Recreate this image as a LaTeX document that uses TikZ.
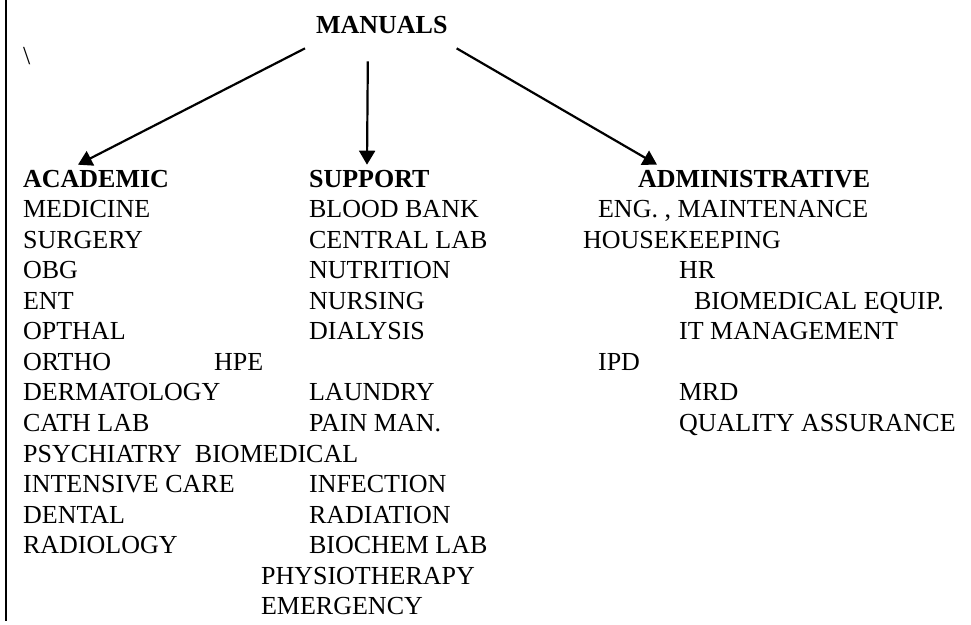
\documentclass[tikz,border=0pt]{standalone}
\usepackage{fontspec}
\setmainfont{Liberation Serif}
\usetikzlibrary{arrows.meta}

\begin{document}
\begin{tikzpicture}[x=1pt,y=-1pt,line width=2.2pt,>={Triangle[width=16pt,length=14pt]},
 font=\fontsize{26}{30}\selectfont,
 item/.style={anchor=base west,inner sep=0pt},
 heading/.style={item,font=\fontsize{26}{30}\selectfont\bfseries}]
 \useasboundingbox (0,0) rectangle (971,624);
 \draw[line width=2pt] (6,0)--(6,621);
 \node[heading] (manuals) at (315,33) {MANUALS};
 \node[item] (slash) at (22,64) {\textbackslash};
 % column heads
 \node[heading] (academic) at (22,187) {ACADEMIC};
 \node[heading] (support) at (308,187) {SUPPORT};
 \node[heading] (admin) at (637,187) {ADMINISTRATIVE};
 \draw[->] ([shift={(-10,14)}]manuals.south west)--([shift={(56,-4)}]academic.north west);
 \draw[->] ([shift={(-14,27)}]manuals.south)--([shift={(59,-4)}]support.north west);
 \draw[->] ([shift={(8,14)}]manuals.south east)--([shift={(20,-4)}]admin.north west);
 % academic
 \foreach \xx/\row/\txt [count=\i] in {22/1/MEDICINE,22/2/SURGERY,22/3/OBG,22/4/ENT,
   22/5/OPTHAL,22/6/ORTHO,22/7/DERMATOLOGY,22/8/CATH LAB,
   22/9/{PSYCHIATRY\ \ BIOMEDICAL},22/10/INTENSIVE CARE,22/11/DENTAL,22/12/RADIOLOGY}
  \node[item] (acad\i) at (\xx,{187+30.57*\row}) {\txt};
 % support
 \foreach \xx/\row/\txt [count=\i] in {308/1/BLOOD BANK,308/2/CENTRAL LAB,308/3/NUTRITION,
   308/4/NURSING,308/5/DIALYSIS,213/6/HPE,308/7/LAUNDRY,308/8/PAIN MAN.,
   308/10/INFECTION,308/11/RADIATION,308/12/BIOCHEM LAB,260/13/PHYSIOTHERAPY,
   260/14/EMERGENCY}
  \node[item] (supp\i) at (\xx,{187+30.57*\row}) {\txt};
 % administrative
 \foreach \xx/\row/\txt [count=\i] in {597/1/{ENG. , MAINTENANCE},582/2/HOUSEKEEPING,
   678/3/HR,693/4/BIOMEDICAL EQUIP.,678/5/IT MANAGEMENT,597/6/IPD,678/7/MRD,
   678/8/QUALITY ASSURANCE}
  \node[item] (adm\i) at (\xx,{187+30.57*\row}) {\txt};
\end{tikzpicture}
\end{document}
